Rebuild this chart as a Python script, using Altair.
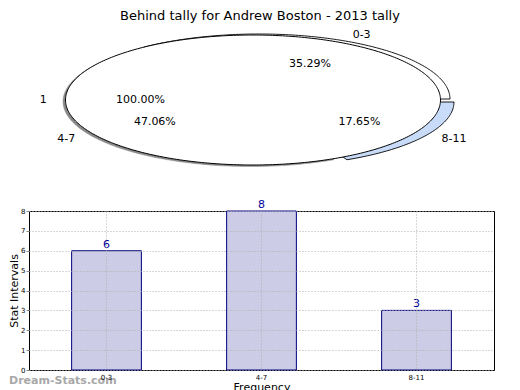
import altair as alt
import pandas as pd
import numpy as np

# ---------------- data ----------------
categories = ["0-3", "4-7", "8-11"]
values = [6, 8, 3]
title_text = "Behind tally for Andrew Boston - 2013 tally"
total_label = "1"
total_pct = "100.00%"
watermark = "Dream-Stats.com"
y_ticks = list(range(0, 9))

# ---------------- layout / style ----------------
PAGE = 8
PL = 28.5                 # page x of the plot-area origin (shared by both panels)
BAR_W, BAR_H = 465, 159
TOP_H = 183
CX, CY, A, B = 252.5, 99.0, 187.5, 65.0
wedge_style = {
    "0-3": dict(cx=258.5, cy=98.0, a=191.0, b=65.0, fill="white", stroke="black", sw=0.9),
    "4-7": dict(cx=250.0, cy=100.5, a=187.5, b=65.0, fill="#8a8a8a", stroke="#8a8a8a", sw=0.5),
    "8-11": dict(cx=260.5, cy=101.0, a=193.0, b=64.5, fill="#c8dcfa", stroke="black", sw=0.9),
}
FONT = "DejaVu Sans"


def arc_pts(cx, cy, a, b, t1, t2):
    n = max(2, int(abs(t2 - t1)) + 1)
    ts = np.radians(np.linspace(t1, t2, n))
    return [[float(cx + a * np.cos(t)), float(cy - b * np.sin(t))] for t in ts]


total = sum(values)
features = []
texts = []
cum = 0
wedges = {}
for cat, v in zip(categories, values):
    t1 = 360.0 * cum / total
    cum += v
    t2 = 360.0 * cum / total
    wedges[cat] = (t1, t2, v)
for cat in ["4-7", "0-3", "8-11"]:
    t1, t2, v = wedges[cat]
    s = wedge_style[cat]
    ring = [[s["cx"], s["cy"]]] + arc_pts(s["cx"], s["cy"], s["a"], s["b"], t1, t2) + [[s["cx"], s["cy"]]]
    features.append({"type": "Feature", "geometry": {"type": "Polygon", "coordinates": [ring]},
                     "properties": {"fill": s["fill"], "stroke": s["stroke"], "sw": s["sw"]}})
for cat in categories:
    t1, t2, v = wedges[cat]
    s = wedge_style[cat]
    mid = np.radians((t1 + t2) / 2)
    c, sn = np.cos(mid), np.sin(mid)
    texts.append({"x": s["cx"] + 0.6 * s["a"] * c, "y": s["cy"] - 0.6 * s["b"] * sn,
                  "t": f"{100.0 * v / total:.2f}%", "al": "center"})
    texts.append({"x": s["cx"] + 1.1 * s["a"] * c, "y": s["cy"] - 1.1 * s["b"] * sn,
                  "t": cat, "al": "left" if c > 0 else "right"})
# full pie of the total, drawn on top
full = arc_pts(CX, CY, A, B, 0, 360)
features.append({"type": "Feature", "geometry": {"type": "Polygon", "coordinates": [full]},
                 "properties": {"fill": "white", "stroke": "black", "sw": 1.0}})
texts.append({"x": CX - 0.6 * A, "y": CY, "t": total_pct, "al": "center"})
texts.append({"x": CX - 1.1 * A, "y": CY, "t": total_label, "al": "right"})
text_df = pd.DataFrame(texts)
title_df = pd.DataFrame([{"x": 259.5, "y": 14.5, "t": title_text}])

proj = alt.Projection(type="identity", scale=1, translate=[-PL, -PAGE])
shapes = alt.Chart(alt.Data(values=features)).mark_geoshape().encode(
    fill=alt.Fill("properties.fill:N", scale=None),
    stroke=alt.Stroke("properties.stroke:N", scale=None),
    strokeWidth=alt.StrokeWidth("properties.sw:Q", scale=None),
)
layers = [shapes]
for al in ["center", "left", "right"]:
    layers.append(
        alt.Chart(text_df).transform_filter(alt.datum.al == al).mark_text(
            align=al, baseline="middle", fontSize=11, font=FONT, color="black"
        ).encode(longitude="x:Q", latitude="y:Q", text="t:N")
    )
layers.append(
    alt.Chart(title_df).mark_text(align="center", baseline="middle", fontSize=13, font=FONT, color="black")
    .encode(longitude="x:Q", latitude="y:Q", text="t:N")
)
top = alt.layer(*layers).properties(width=BAR_W, height=TOP_H, projection=proj,
                                    view=alt.ViewBackground(stroke="transparent"))

# ---------------- bar chart ----------------
bar_df = pd.DataFrame({"cat": categories, "val": values})
base = alt.Chart(bar_df)
x_enc = alt.X("cat:N", sort=categories, title="Frequency",
              scale=alt.Scale(paddingInner=0.55, paddingOuter=0.275),
              axis=alt.Axis(labelAngle=0, labelFontSize=7, ticks=False, labelPadding=3, domain=False,
                            grid=True, gridDash=[1, 2], gridColor="#b0b0b0", bandPosition=0.5,
                            titleFontSize=11, titleFontWeight="normal", titlePadding=1, zindex=1,
                            labelColor="black", titleColor="black", labelFont=FONT, titleFont=FONT))
y_enc = alt.Y("val:Q", title="Stat Intervals", scale=alt.Scale(domain=[0, 8], nice=False),
              axis=alt.Axis(values=y_ticks, tickCount=len(y_ticks), labelFontSize=7, tickSize=3,
                            labelPadding=1, domain=False, labelOverlap=False,
                            grid=True, gridDash=[1, 2], gridColor="#b0b0b0", tickColor="#888888",
                            titleFontSize=11, titleFontWeight="normal", titlePadding=1, zindex=1,
                            labelColor="black", titleColor="black", labelFont=FONT, titleFont=FONT))
bars = base.mark_bar(fill="#ccccE6", stroke="#000080", strokeWidth=1).encode(x=x_enc, y=y_enc)
bar_text = base.mark_text(baseline="bottom", dy=-1, fontSize=11, font=FONT, color="#00009c").encode(
    x=x_enc, y=y_enc, text="val:Q")
wm = alt.Chart(pd.DataFrame({"t": [watermark]})).mark_text(
    align="left", baseline="middle", fontSize=11, fontWeight="bold", font=FONT, color="#a8a8a8"
).encode(x=alt.value(-20), y=alt.value(BAR_H + 11), text="t:N")
bottom = alt.layer(bars, bar_text, wm).properties(width=BAR_W, height=BAR_H,
                                                  view=alt.ViewBackground(stroke="black", strokeWidth=1))

chart = alt.vconcat(top, bottom, spacing=5).properties(padding=0).configure_view(stroke="transparent")
chart.save("out.html", embed_options={"renderer": "svg", "actions": False})
